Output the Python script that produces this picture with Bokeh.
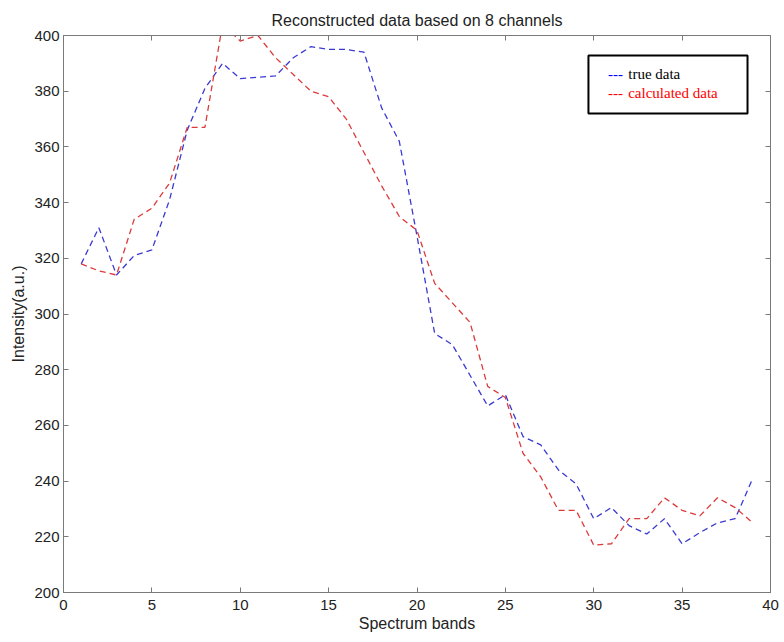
from bokeh.plotting import figure
from bokeh.models import Range1d, LinearAxis, FixedTicker, BoxAnnotation, Label
from bokeh.embed import file_html
from bokeh.resources import INLINE

bands = list(range(1, 40))
true_data = [318, 331, 314, 321, 323, 341, 366, 381, 390, 384.5, 385, 385.5, 392, 396,
             395, 395, 394, 374, 362, 328, 293, 289, 278, 267, 271, 256, 253, 244, 239,
             226.5, 230.5, 224, 221, 226.5, 217.5, 221.5, 225, 226.5, 241]
calc_data = [318, 315.5, 314, 334, 338, 347, 367, 367, 404, 398, 400, 392, 386, 380,
             378, 370, 358, 346, 335, 330, 311, 304, 297, 274, 270, 250, 241.5, 229.5,
             229.5, 217, 217.5, 226.5, 226.5, 234, 229.5, 227.5, 234, 230.5, 225]
x_ticks = [0, 5, 10, 15, 20, 25, 30, 35, 40]
y_ticks = [200, 220, 240, 260, 280, 300, 320, 340, 360, 380, 400]

FONT = "Liberation Sans"
AX = "#7a7a7a"
TXT = "#222222"

p = figure(width=780, height=640, x_range=Range1d(0, 40), y_range=Range1d(200, 400),
           output_backend="svg", toolbar_location=None,
           min_border_left=63, min_border_right=10, min_border_top=35, min_border_bottom=48,
           title="Reconstructed data based on 8 channels")
p.title.align = "center"
p.title.text_font = FONT
p.title.text_font_size = "16px"
p.title.text_font_style = "normal"
p.title.text_color = TXT
p.title.standoff = 13
p.grid.grid_line_color = None
p.outline_line_color = AX

p.line(bands, true_data, line_color="#3a3ad2", line_width=1.3, line_dash="6 4")
p.line(bands, calc_data, line_color="#dc3a3a", line_width=1.3, line_dash="6 4")

for ax in [p.xaxis[0], p.yaxis[0]]:
    ax.major_tick_in = 5
    ax.major_tick_out = 0
    ax.minor_tick_line_color = None
    ax.axis_line_color = AX
    ax.major_tick_line_color = AX
    ax.major_label_text_font = FONT
    ax.major_label_text_font_size = "15px"
    ax.major_label_text_color = TXT
    ax.axis_label_text_font = FONT
    ax.axis_label_text_font_size = "16px"
    ax.axis_label_text_font_style = "normal"
    ax.axis_label_text_color = TXT

p.xaxis.major_label_standoff = 7
p.xaxis.axis_label_standoff = 2
p.yaxis.major_label_standoff = 4
p.yaxis.axis_label_standoff = 4

p.xaxis.ticker = FixedTicker(ticks=x_ticks)
p.yaxis.ticker = FixedTicker(ticks=y_ticks)
p.xaxis.axis_label = "Spectrum bands"
p.yaxis.axis_label = "Intensity(a.u.)"

for loc, ticks in [("right", y_ticks), ("above", x_ticks)]:
    a = LinearAxis(ticker=FixedTicker(ticks=ticks))
    a.major_tick_in = 5
    a.major_tick_out = 0
    a.minor_tick_line_color = None
    a.axis_line_color = AX
    a.major_tick_line_color = AX
    a.major_label_overrides = {t: "" for t in ticks}
    a.major_label_text_color = None
    a.major_label_standoff = 0
    p.add_layout(a, loc)

box = BoxAnnotation(left=29.7, right=38.7, bottom=372.0, top=392.8,
                    fill_color="white", fill_alpha=1.0,
                    line_color="black", line_alpha=1.0, line_width=2)
p.add_layout(box)

SERIF = "Liberation Serif"
for xx, yy, txt, col in [(30.8, 386.0, "---", "#0000ff"), (31.95, 386.0, "true data", "black"),
                         (30.8, 379.2, "---", "#ff0000"), (31.95, 379.2, "calculated data", "#ff0000")]:
    p.add_layout(Label(x=xx, y=yy, text=txt, text_color=col, text_font=SERIF,
                       text_font_size="15px", text_baseline="middle"))

open("out.html", "w").write(file_html(p, INLINE))
